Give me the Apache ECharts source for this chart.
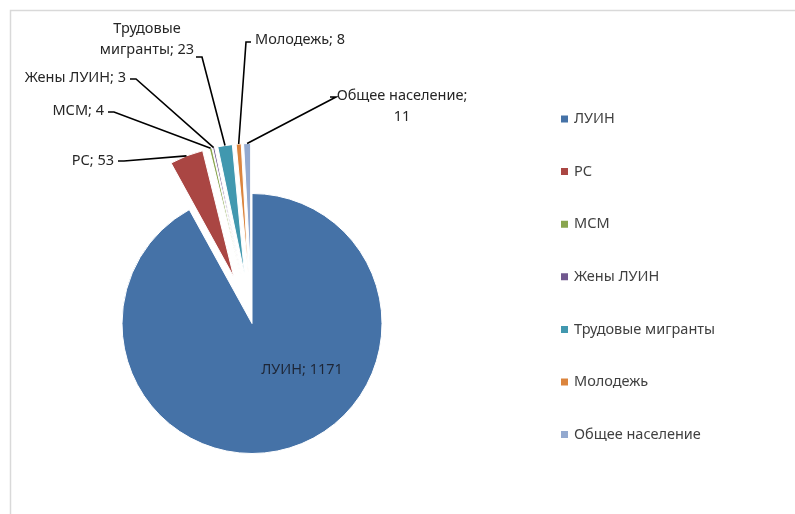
<!DOCTYPE html>
<html>
<head>
<meta charset="utf-8">
<script src="https://cdn.jsdelivr.net/npm/echarts@6/dist/echarts.min.js"></script>
<style>
    html, body { margin: 0; padding: 0; background: #fff; }
    #main { width: 795px; height: 514px; }
</style>
</head>
<body>
<div id="main"></div>
<script>
    // данные
    var names = ['ЛУИН', 'РС', 'МСМ', 'Жены ЛУИН', 'Трудовые мигранты', 'Молодежь', 'Общее население'];
    var values = [1171, 53, 4, 3, 23, 8, 11];
    var colors = ['#4572a7', '#aa4643', '#89a54e', '#71588f', '#4198af', '#db843d', '#93a9cf'];
    var labelTexts = ['ЛУИН; 1171', 'РС; 53', 'МСМ; 4', 'Жены ЛУИН; 3', 'Трудовые\nмигранты; 23', 'Молодежь; 8', 'Общее население;\n11'];

    // где стоят подписи (tx,ty - текст, ax,ay - конец выноски)
    var labelSpots = [
        { tx: 302, ty: 370, align: 'center' },
        { tx: 114, ty: 161, align: 'right', ax: 118, ay: 161 },
        { tx: 104, ty: 111, align: 'right', ax: 108, ay: 112 },
        { tx: 126, ty: 78, align: 'right', ax: 130, ay: 79 },
        { tx: 147, ty: 39, align: 'center', ax: 196, ay: 57 },
        { tx: 255, ty: 40, align: 'left', ax: 251, ay: 42 },
        { tx: 402, ty: 106, align: 'center', ax: 330, ay: 97 }
    ];

    var font = 'Noto Sans';
    var myChart = echarts.init(document.getElementById('main'));
    var data = names.map(function (n, i) {
        return { name: n, value: values[i], selected: i > 0, itemStyle: { color: colors[i] } };
    });

    var option = {
        animation: false,
        legend: {
            orient: 'vertical',
            left: 554,
            top: 105,
            itemWidth: 9,
            itemHeight: 9,
            itemGap: 34.6,
            icon: 'rect',
            selectedMode: false,
            data: names,
            textStyle: {
                color: '#404040',
                fontSize: 14.5,
                fontFamily: font,
                lineHeight: 18
            }
        },
        series: [{
            type: 'pie',
            center: [252, 323.5],
            radius: 130,
            startAngle: 90,
            clockwise: true,
            selectedMode: 'multiple',
            selectedOffset: 50,
            emphasis: { disabled: true },
            itemStyle: { borderColor: '#fff', borderWidth: 1 },
            label: { show: false },
            labelLine: { show: false },
            data: data
        }]
    };
    myChart.setOption(option);

    // подписи и выноски по фактическим секторам
    var pieData = myChart.getModel().getSeriesByIndex(0).getData();
    var graphics = [{
        type: 'rect',
        silent: true,
        shape: { x: 10.5, y: 10.5, width: 800, height: 520 },
        style: { fill: 'none', stroke: '#d9d9d9', lineWidth: 1.5 }
    }];
    labelSpots.forEach(function (s, i) {
        graphics.push({
            type: 'text',
            silent: true,
            z: 10,
            style: {
                text: labelTexts[i],
                x: s.tx,
                y: s.ty,
                textAlign: s.align,
                textVerticalAlign: 'middle',
                font: '14.5px "' + font + '"',
                lineHeight: 21,
                fill: i === 0 ? '#1e2636' : '#262626'
            }
        });
        if (s.ax == null) return;
        var el = pieData.getItemGraphicEl(i);
        var sh = el.shape;
        var mid = (sh.startAngle + sh.endAngle) / 2;
        var px = sh.cx + sh.r * Math.cos(mid) + el.x;
        var py = sh.cy + sh.r * Math.sin(mid) + el.y;
        var bend = s.align === 'left' ? s.ax - 5 : s.ax + 6;
        graphics.push({
            type: 'polyline',
            silent: true,
            z: 9,
            shape: { points: [[px, py], [bend, s.ay], [s.ax, s.ay]] },
            style: { stroke: '#000', lineWidth: 1.6, fill: null }
        });
    });
    myChart.setOption({ graphic: graphics });
</script>
</body>
</html>
